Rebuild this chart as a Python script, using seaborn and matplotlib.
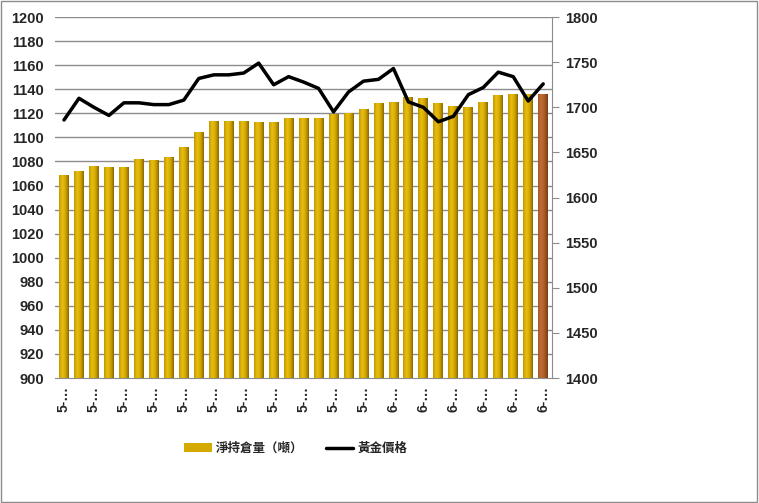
import numpy as np
import pandas as pd
import seaborn as sns
import matplotlib.pyplot as plt
from matplotlib.colors import LinearSegmentedColormap
from matplotlib.patches import Rectangle
from matplotlib.lines import Line2D

# data
months = ["5"] * 21 + ["6"] * 12
holdings = [1068, 1072, 1076, 1075, 1075, 1082, 1081, 1083, 1092, 1104, 1113,
            1113, 1113, 1112, 1112, 1116, 1116, 1116, 1119, 1120, 1123, 1128,
            1129, 1133, 1132, 1128, 1126, 1125, 1129, 1135, 1136, 1136, 1136]
gold_price = [1686, 1710, 1700, 1691, 1705, 1705, 1703, 1703, 1708, 1732, 1736,
              1736, 1738, 1749, 1725, 1734, 1728, 1721, 1695, 1717, 1729, 1731,
              1743, 1706, 1700, 1684, 1690, 1714, 1722, 1739, 1734, 1707, 1726]

df = pd.DataFrame({"idx": range(len(holdings)), "holdings": holdings, "price": gold_price})

sns.set_style("white")
plt.rcParams['font.family'] = ['Liberation Sans', 'Noto Sans CJK TC', 'DejaVu Sans']

fig = plt.figure(figsize=(7.59, 5.03), dpi=100)
ax = fig.add_axes([0.0725, 0.2485, 0.655, 0.7175])

gold_cmap = LinearSegmentedColormap.from_list("gold", ["#c29800", "#e8c010", "#d2a600", "#8a6800"])
brown_cmap = LinearSegmentedColormap.from_list("brown", ["#a85a25", "#c06f35", "#a65a28", "#7a3e14"])

sns.barplot(data=df, x="idx", y="holdings", color="#d4aa00", width=0.66, ax=ax, zorder=3)
ymin, ymax = 900, 1200

# grid first, behind the bars
for v in np.arange(920, 1201, 20):
    ax.axhline(v, color="#8c8c8c", linewidth=1, zorder=0)

# gradient fill for each bar, kept inside the visible range
grad = np.linspace(0, 1, 64).reshape(1, -1)
for i, p in enumerate(ax.patches):
    x0, w, h = p.get_x(), p.get_width(), p.get_height()
    cmap = brown_cmap if i == len(ax.patches) - 1 else gold_cmap
    ax.imshow(grad, cmap=cmap, aspect="auto", interpolation="bilinear",
              extent=[x0, x0 + w, ymin, min(h, ymax)], zorder=4)
    p.set_visible(False)
ax.set_xlim(-0.6, len(holdings) - 0.4)
ax.set_ylim(ymin, ymax)

ax.set_yticks(np.arange(900, 1201, 20))
ax.set_xticks(range(0, len(holdings), 2))
ax.set_xticklabels([months[i] + "-…" for i in range(0, len(holdings), 2)],
                   rotation=90, fontsize=10, fontweight="bold")
ax.tick_params(axis="y", labelsize=10.5, length=0, pad=8)
for t in ax.get_yticklabels():
    t.set_fontweight("bold")
ax.tick_params(axis="x", length=0, pad=6)
ax.set_xlabel("")
ax.set_ylabel("")
for s in ["top", "left", "right"]:
    ax.spines[s].set_visible(False)
ax.spines["bottom"].set_color("#8c8c8c")
ax.spines["bottom"].set_zorder(5)

ax2 = ax.twinx()
sns.lineplot(data=df, x="idx", y="price", color="black", linewidth=2.5, ax=ax2, zorder=3)
ax2.set_ylim(1400, 1800)
ax2.set_yticks(np.arange(1400, 1801, 50))
ax2.tick_params(axis="y", labelsize=10.5, length=5, direction="out", color="#8c8c8c", pad=4)
for t in ax2.get_yticklabels():
    t.set_fontweight("bold")
ax2.set_ylabel("")
for s in ["top", "left", "bottom"]:
    ax2.spines[s].set_visible(False)
ax2.spines["right"].set_color("#8c8c8c")
ax2.set_xlim(ax.get_xlim())

# legend
handles = [Rectangle((0, 0), 1, 1, facecolor="#d4aa00", edgecolor="none"),
           Line2D([0], [0], color="black", linewidth=2.5)]
fig.legend(handles, ["淨持倉量（噸）", "黃金價格"], loc="center", bbox_to_anchor=(0.39, 0.108),
           ncol=2, frameon=False, prop={"family": ["Noto Sans CJK TC"], "weight": "bold", "size": 9},
           handlelength=2.2, handleheight=0.7, columnspacing=1.75, handletextpad=0.35)

fig.patches.append(Rectangle((0.001, 0.001), 0.997, 0.997, transform=fig.transFigure,
                             fill=False, edgecolor="#8c8c8c", linewidth=1))

fig.savefig("out.png", dpi=100)
